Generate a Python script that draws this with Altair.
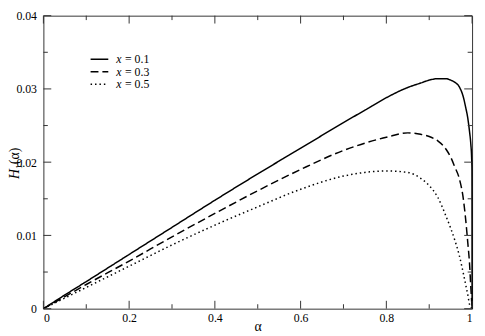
import altair as alt
import pandas as pd

# ---- data ----
alpha = [0, 0.05, 0.1, 0.2, 0.3, 0.4, 0.5, 0.6, 0.7, 0.75, 0.8, 0.85, 0.88, 0.9,
         0.92, 0.94, 0.95, 0.96, 0.97, 0.98, 0.985, 0.99, 0.994, 0.997, 0.999, 0.9997, 1.0]
h_x01 = [0, 0.00187, 0.0037, 0.0074, 0.0111, 0.0148, 0.0184, 0.0219, 0.0254, 0.0271, 0.0288,
         0.0302, 0.0308, 0.0312, 0.0314, 0.0314, 0.0312, 0.0309, 0.0303, 0.0288, 0.0275,
         0.0260, 0.0242, 0.0225, 0.0205, 0.0190, 0.0]
h_x03 = [0, 0.00165, 0.0033, 0.0065, 0.0098, 0.0130, 0.0161, 0.0190, 0.0216, 0.0226, 0.0234,
         0.0240, 0.0238, 0.0235, 0.0229, 0.0217, 0.0207, 0.0193, 0.0178, 0.0148, 0.0122,
         0.0090, 0.0062, 0.0030, 0.0010, 0.0003, 0.0]
h_x05 = [0, 0.00145, 0.0029, 0.0058, 0.0087, 0.0114, 0.0139, 0.0163, 0.0181, 0.0186, 0.0188,
         0.0186, 0.0178, 0.0168, 0.0152, 0.0125, 0.0110, 0.0093, 0.0073, 0.0047, 0.0033,
         0.0019, 0.0006, 0.0002, 0.0001, 0.0, 0.0]
series_names = ["x = 0.1", "x = 0.3", "x = 0.5"]
legend_values = ["= 0.1", "= 0.3", "= 0.5"]
x_major = [0, 0.2, 0.4, 0.6, 0.8, 1.0]
x_minor = [0.1, 0.3, 0.5, 0.7, 0.9]
y_major = [0, 0.01, 0.02, 0.03, 0.04]
y_minor = [0.005, 0.015, 0.025, 0.035]

# ---- layout / style ----
W, H = 436, 298
FONT = "'Liberation Serif', 'Times New Roman', Times, serif"
INK = "#333333"
dash_range = [[1, 0], [8, 4], [1.5, 3]]
MAJ, MIN = 8, 4.5

rows = []
for name, vals in zip(series_names, [h_x01, h_x03, h_x05]):
    for a, v in zip(alpha, vals):
        rows.append({"alpha": a, "H": v, "series": name})
df = pd.DataFrame(rows)

xs = alt.Scale(domain=[0, 1], nice=False, zero=False)
ys = alt.Scale(domain=[0, 0.04], nice=False)

curves = alt.Chart(df).mark_line(color="black", strokeWidth=1.5, interpolate="monotone").encode(
    x=alt.X("alpha:Q", scale=xs,
            axis=alt.Axis(values=x_major, format="~g", labelPadding=4, title="α",
                          titleY=22, titleBaseline="alphabetic")),
    y=alt.Y("H:Q", scale=ys,
            axis=alt.Axis(values=y_major, format="~g", labelPadding=7, title=None)),
    strokeDash=alt.StrokeDash("series:N", scale=alt.Scale(domain=series_names, range=dash_range),
                              legend=None),
    detail="series:N",
)

layers = [curves]

def xticks(vals, length):
    d = pd.DataFrame({"alpha": vals})
    b = alt.Chart(d).mark_rule(color=INK, strokeWidth=1)
    return [b.encode(x=alt.X("alpha:Q", scale=xs), y=alt.value(H), y2=alt.value(H - length)),
            b.encode(x=alt.X("alpha:Q", scale=xs), y=alt.value(0), y2=alt.value(length))]

def yticks(vals, length):
    d = pd.DataFrame({"H": vals})
    b = alt.Chart(d).mark_rule(color=INK, strokeWidth=1)
    return [b.encode(y=alt.Y("H:Q", scale=ys), x=alt.value(0), x2=alt.value(length)),
            b.encode(y=alt.Y("H:Q", scale=ys), x=alt.value(W), x2=alt.value(W - length))]

layers += xticks(x_major, MAJ) + xticks(x_minor, MIN) + yticks(y_major, MAJ) + yticks(y_minor, MIN)

# ---- legend ----
leg_y = [44.3, 57, 69.7]
for i, name in enumerate(series_names):
    d = pd.DataFrame({"series": [name], "sym": ["x"], "val": [legend_values[i]]})
    layers.append(alt.Chart(d).mark_rule(color="black", strokeWidth=1.5, strokeDash=dash_range[i]).encode(
        x=alt.value(48), x2=alt.value(66), y=alt.value(leg_y[i])))
    layers.append(alt.Chart(d).mark_text(font=FONT, fontSize=12, fontStyle="italic", align="left",
                                         baseline="middle", color="black").encode(
        text="sym:N", x=alt.value(74), y=alt.value(leg_y[i])))
    layers.append(alt.Chart(d).mark_text(font=FONT, fontSize=12, align="left",
                                         baseline="middle", color="black").encode(
        text="val:N", x=alt.value(83), y=alt.value(leg_y[i])))

# ---- y title H_1(alpha) ----
title_parts = ["H", "1", "(α)"]
tp = pd.DataFrame({"t": title_parts})
layers.append(alt.Chart(tp.iloc[[0]]).mark_text(font=FONT, fontSize=14, fontStyle="italic", angle=270,
                                                align="left", baseline="alphabetic", color="black").encode(
    text="t:N", x=alt.value(-25), y=alt.value(166)))
layers.append(alt.Chart(tp.iloc[[1]]).mark_text(font=FONT, fontSize=9, angle=270,
                                                align="left", baseline="alphabetic", color="black").encode(
    text="t:N", x=alt.value(-22), y=alt.value(156)))
layers.append(alt.Chart(tp.iloc[[2]]).mark_text(font=FONT, fontSize=14, angle=270,
                                                align="left", baseline="alphabetic", color="black").encode(
    text="t:N", x=alt.value(-25), y=alt.value(151)))

chart = alt.layer(*layers).properties(
    width=W, height=H,
    padding={"left": 36, "top": 5, "right": 5, "bottom": 25},
    autosize=alt.AutoSizeParams(type="none"),
).configure_view(
    stroke=INK, strokeWidth=1
).configure_axis(
    ticks=False, tickSize=0, domain=False, grid=False,
    labelFont=FONT, labelFontSize=12, labelColor="black",
    titleFont=FONT, titleFontSize=14, titleFontWeight="normal", titleColor="black",
)

chart.save("out.html", embed_options={"renderer": "svg", "actions": False})
